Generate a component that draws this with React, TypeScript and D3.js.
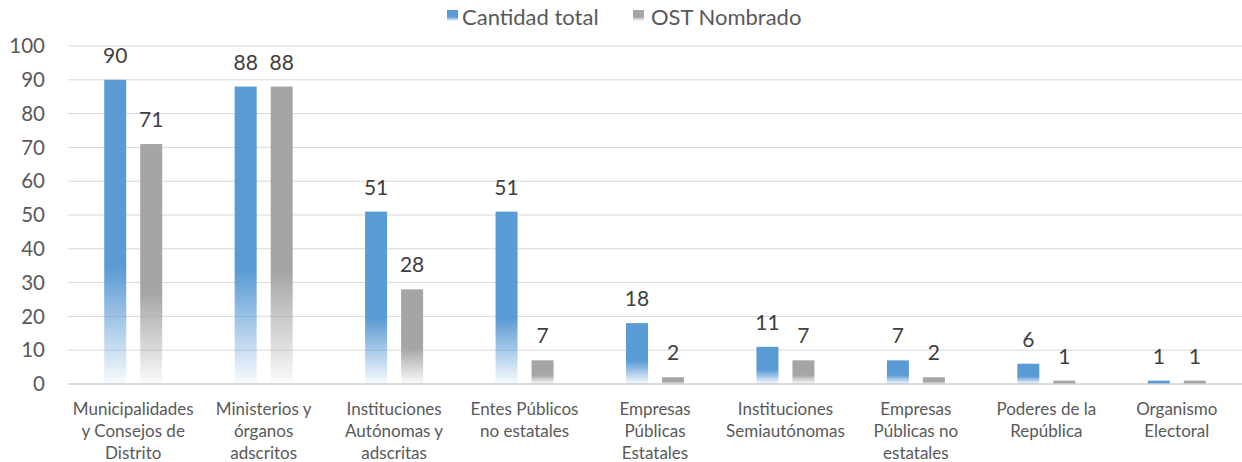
import React from 'react';
import * as d3 from 'd3';

const categories = [
  ['Municipalidades', 'y Consejos de', 'Distrito'],
  ['Ministerios y', 'órganos', 'adscritos'],
  ['Instituciones', 'Autónomas y', 'adscritas'],
  ['Entes Públicos', 'no estatales'],
  ['Empresas', 'Públicas', 'Estatales'],
  ['Instituciones', 'Semiautónomas'],
  ['Empresas', 'Públicas no', 'estatales'],
  ['Poderes de la', 'República'],
  ['Organismo', 'Electoral'],
];
const cantidadTotal = [90, 88, 51, 51, 18, 11, 7, 6, 1];
const ostNombrado = [71, 88, 28, 7, 2, 7, 2, 1, 1];
const yTicks = [0, 10, 20, 30, 40, 50, 60, 70, 80, 90, 100];

const W = 1242;
const H = 462;
const FONT = 'Lato, "Open Sans", sans-serif';

const series = [
  { name: 'Cantidad total', values: cantidadTotal, color: '#5b9bd5', id: 'gBlue' },
  { name: 'OST Nombrado', values: ostNombrado, color: '#a5a5a5', id: 'gGray' },
];

const App = () => {
  const margin = { left: 68, right: 0, top: 46, bottom: 78 };
  const x = d3
    .scaleBand<number>()
    .domain(d3.range(categories.length))
    .range([margin.left, W - margin.right]);
  const y = d3.scaleLinear().domain([0, 100]).range([H - margin.bottom, margin.top]);

  const barW = 22;
  const gap = 14;

  return (
    <svg width={W} height={H} style={{ position: 'absolute', left: 0, top: 0, background: '#fff' }}>
      <defs>
        {series.map((s) => (
          <linearGradient key={s.id} id={s.id} x1="0" y1="0" x2="0" y2="1">
            <stop offset="0" stopColor={s.color} />
            <stop offset="0.62" stopColor={s.color} />
            <stop offset="1" stopColor={s.color} stopOpacity={0.04} />
          </linearGradient>
        ))}
      </defs>

      {/* legend */}
      <g fontFamily={FONT} fontSize={22} fill="#595959">
        <rect x={447} y={10} width={11} height={11} fill={`url(#gBlue)`} />
        <text x={462} y={25}>Cantidad total</text>
        <rect x={633} y={10} width={11} height={11} fill={`url(#gGray)`} />
        <text x={651} y={25}>OST Nombrado</text>
      </g>

      {/* grid + y axis */}
      {yTicks.map((t) => (
        <g key={t}>
          <line
            x1={margin.left}
            x2={W - margin.right}
            y1={y(t)}
            y2={y(t)}
            stroke={t === 0 ? '#d0d0d0' : '#d9d9d9'}
            strokeWidth={t === 0 ? 1.5 : 1}
          />
          <text
            x={45}
            y={y(t)}
            dy="0.35em"
            textAnchor="end"
            fontFamily={FONT}
            fontSize={20.5}
            fill="#595959"
          >
            {t}
          </text>
        </g>
      ))}

      {/* bars */}
      {series.map((s, si) =>
        s.values.map((v, i) => {
          const cx = x(i)! + x.bandwidth() / 2;
          const bx = si === 0 ? cx - gap / 2 - barW : cx + gap / 2;
          return (
            <g key={`${si}-${i}`}>
              <rect x={bx} y={y(v)} width={barW} height={y(0) - y(v)} fill={`url(#${s.id})`} />
              <text
                x={bx + barW / 2}
                y={y(v) - 17}
                textAnchor="middle"
                fontFamily={FONT}
                fontSize={21}
                fill="#404040"
              >
                {v}
              </text>
            </g>
          );
        })
      )}

      {/* x labels */}
      {categories.map((lines, i) => (
        <text
          key={i}
          x={x(i)! + x.bandwidth() / 2}
          y={415}
          textAnchor="middle"
          fontFamily={FONT}
          fontSize={17}
          fill="#595959"
        >
          {lines.map((l, j) => (
            <tspan key={j} x={x(i)! + x.bandwidth() / 2} dy={j === 0 ? 0 : 22}>
              {l}
            </tspan>
          ))}
        </text>
      ))}
    </svg>
  );
};

export default App;
